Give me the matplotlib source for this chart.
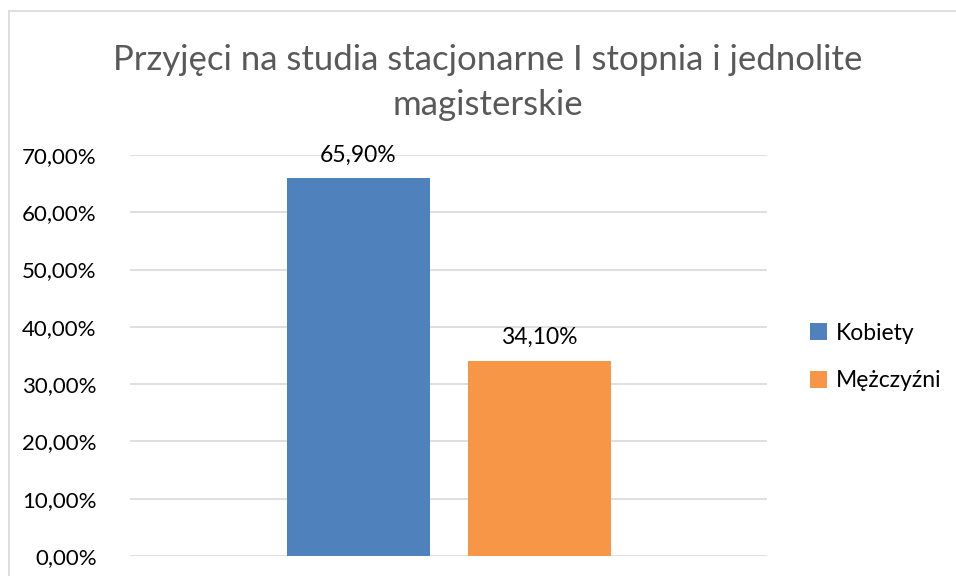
import matplotlib
matplotlib.use("Agg")
import matplotlib.pyplot as plt
from matplotlib.lines import Line2D
from matplotlib.ticker import FuncFormatter

title_lines = ["Przyjęci na studia stacjonarne I stopnia i jednolite", "magisterskie"]
series_names = ["Kobiety", "Mężczyźni"]
values = [65.90, 34.10]
colors = ["#4F81BD", "#F79646"]
y_ticks = [0, 10, 20, 30, 40, 50, 60, 70]

W, H = 956, 576
fig = plt.figure(figsize=(W / 100, H / 100), dpi=100)
plt.rcParams['font.family'] = ['Lato', 'DejaVu Sans']

# outer chart border (cropped at right/bottom)
fig.add_artist(Line2D([8.5 / W, 8.5 / W], [0, 1 - 10.5 / H], color="#D9D9D9", lw=1.2, transform=fig.transFigure))
fig.add_artist(Line2D([8.5 / W, 1], [1 - 10.5 / H, 1 - 10.5 / H], color="#D9D9D9", lw=1.2, transform=fig.transFigure))

left, right, top, bottom = 130, 767, 155, 556
ax = fig.add_axes([left / W, (H - bottom) / H, (right - left) / W, (bottom - top) / H])

bar_w = 143 / (right - left)
offset = 90.5 / (right - left)
positions = [-offset, offset]
bars = []
for pos, val, col, name in zip(positions, values, colors, series_names):
    b = ax.bar(pos, val, width=bar_w, color=col, label=name, zorder=3)
    bars.append(b)
    ax.text(pos, val + 4.0, f"{val:.2f}%".replace(".", ","), ha="center", va="center",
            fontsize=16.5, color="#000000", zorder=4)

ax.set_xlim(-0.5, 0.5)
ax.set_ylim(0, 70)
ax.set_yticks(y_ticks)
ax.yaxis.set_major_formatter(FuncFormatter(lambda v, p: f"{v:.2f}%".replace(".", ",")))
ax.grid(axis="y", color="#D9D9D9", lw=1.2, zorder=0)
ax.set_xticks([])
for s in ax.spines.values():
    s.set_visible(False)
ax.tick_params(axis="y", length=0, pad=24, labelsize=16, labelcolor="#000000")

for line, yc in zip(title_lines, [60, 105]):
    fig.text(488 / W, 1 - yc / H, line, ha="center", va="center",
             fontsize=25, color="#595959")

ax.legend(handles=[b[0] for b in bars], labels=series_names, loc="center left",
          bbox_to_anchor=(789 / W, 1 - 357 / H), bbox_transform=fig.transFigure,
          frameon=False, fontsize=16.5, handlelength=0.75, handleheight=0.75,
          handletextpad=0.4, labelspacing=1.15)

fig.savefig("out.png", dpi=100)
